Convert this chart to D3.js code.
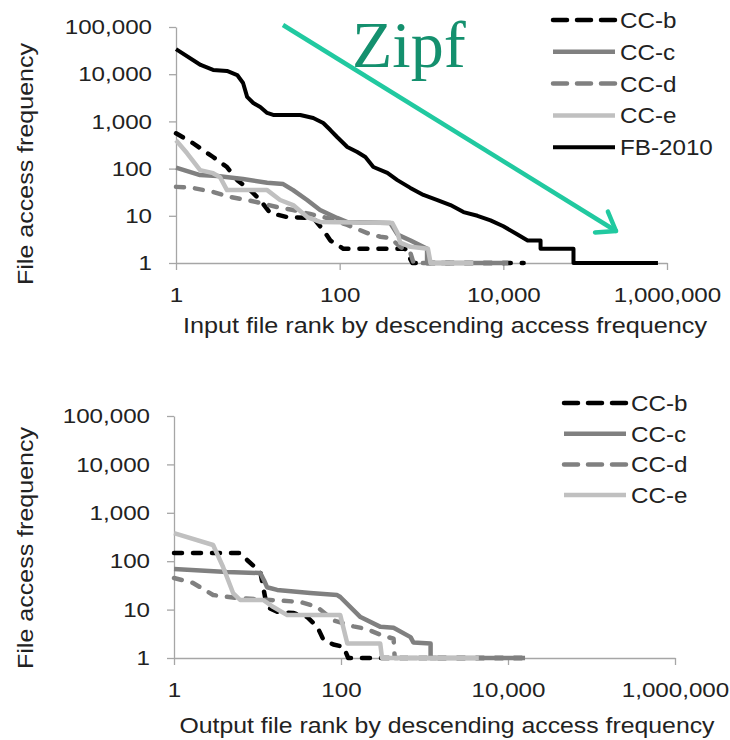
<!DOCTYPE html>
<html><head><meta charset="utf-8">
<script src="https://cdn.jsdelivr.net/npm/d3@7"></script>
<style>
body{margin:0;background:#fff}
svg{display:block}
text{font-family:"Liberation Sans",Arial,sans-serif;}
</style>
</head><body>
<svg id="c" width="730" height="740"></svg>
<script>
// ---------------- data ----------------
const xTicks = [1, 100, 10000, 1000000];
const yTicks = [1, 10, 100, 1000, 10000, 100000];
const seriesNames = ["CC-b", "CC-c", "CC-d", "CC-e", "FB-2010"];

// Input files: [rank, access frequency]
const inCCb = [[1,560],[1.6,349],[2.84,176],[4.2,108],[5.6,57],[8.05,35],[10.7,21.6],[14.1,11.5],[22.8,9.4],[47.5,9],[63,5],[77,3],[111,2],[630,2],[774,1],[17700,1]];
const inCCc = [[1,105],[1.97,73],[3.2,70],[6.6,60],[13,50],[20.4,47],[27,35],[40,21.6],[57.6,13.3],[93,9],[124,7.4],[415,7],[510,4],[735,3],[1170,2],[1170,1],[11500,1]];
const inCCd = [[1,41],[1.6,39],[2.84,32],[4.6,25],[7.4,21.6],[10.7,18.7],[17.2,15.3],[27,13.3],[43.6,10.9],[70,9],[124,6.4],[218,4.3],[314,3.6],[415,3.4],[550,2.2],[735,1.6],[800,1],[3000,1]];
const inCCe = [[1,400],[1.36,214],[1.97,93],[2.84,80],[3.45,66],[4.2,35],[13,35],[18.7,21.6],[27,16.9],[40,9.4],[57.6,7.4],[440,7],[510,4.3],[550,2.7],[735,2.2],[1200,2],[1290,1],[4300,1]];
const inFB = [[1,34000],[2,15700],[2.84,12300],[4.2,11700],[5.6,9600],[6.6,6500],[7.4,3300],[8.8,2450],[10.7,2020],[13,1510],[15.4,1370],[33,1370],[47.5,1180],[63,925],[77,657],[93,467],[124,287],[164,225],[206,176],[258,108],[383,81],[507,57],[731,39],[1055,27.6],[1565,21.6],[2260,16.9],[3260,12],[4830,10],[6970,8],[10000,6],[14900,4],[19800,3],[28500,3],[28500,2],[72000,2],[72000,1],[775000,1]];

// Output files: [rank, access frequency]
const outCCb = [[1,148],[6.2,148],[7.5,106],[10.8,60],[11.7,29],[13,11.3],[17.2,9],[26.8,8.5],[39.5,7],[52,4.4],[61.5,2.4],[81,1.9],[107,1.7],[122,1],[17300,1]];
const outCCc = [[1,69],[4.3,60],[10.8,57],[12,40],[13,29],[17.2,25.5],[42.8,22],[90,20],[98,18.2],[171,7],[297,4.4],[426,4.2],[681,2.7],[735,2.1],[1183,2],[1183,1],[16000,1]];
const outCCd = [[1,45],[1.69,35.5],[2.94,20],[5.7,17.4],[14.2,15.8],[32.6,14.4],[52,11.3],[81,6],[141,4.5],[200,4],[300,3],[426,2.5],[440,1],[1500,1]];
const outCCe = [[1,382],[2.94,216],[3.87,76],[5.1,22],[6.2,15.8],[11.7,15.8],[15.5,11.3],[22.7,7.7],[98,7.7],[119,2],[295,2],[310,1],[4470,1]];

const inTitle = "Input file rank by descending  access frequency";
const outTitle = "Output file rank by descending access frequency";
const yTitle = "File access frequency";

// ---------------- styles ----------------
const styles = {
  "CC-b":   {color:"#000000", dash:"8,11", legendDash:"14,10"},
  "CC-c":   {color:"#808080", dash:null,   legendDash:null},
  "CC-d":   {color:"#808080", dash:"8,11", legendDash:"14,10"},
  "CC-e":   {color:"#c0c0c0", dash:null,   legendDash:null},
  "FB-2010":{color:"#000000", dash:null,   legendDash:null, width:4}
};

const svg = d3.select("#c");

function stretch(sel, factor){
  sel.each(function(){
    const l = this.getComputedTextLength();
    d3.select(this).attr("textLength", l*factor).attr("lengthAdjust","spacingAndGlyphs");
  });
}

function panel(cfg){
  const x = d3.scaleLog().domain([1,1e6]).range([cfg.left, cfg.right]);
  const y = d3.scaleLog().domain([1,1e5]).range([cfg.bottom, cfg.top]);
  const g = svg.append("g");

  const yAx = g.append("g").attr("transform",`translate(${cfg.left},0)`)
    .call(d3.axisLeft(y).tickValues(yTicks).tickFormat(d3.format(",")).tickSize(7).tickPadding(17).tickSizeOuter(0));
  const xAx = g.append("g").attr("transform",`translate(0,${cfg.bottom})`)
    .call(d3.axisBottom(x).tickValues(xTicks).tickFormat(d3.format(",")).tickSize(7).tickPadding(17).tickSizeOuter(0));
  [yAx,xAx].forEach(a=>{
    a.attr("font-size",null).attr("font-family",null);
    a.selectAll("path,line").attr("stroke","#a6a6a6").attr("stroke-width",1.3);
    a.selectAll("text").attr("fill","#222").style("font-size","21px");
    stretch(a.selectAll("text"), 1.15);
  });

  const line = d3.line().x(d=>x(d[0])).y(d=>y(d[1]));
  cfg.series.forEach(s=>{
    const st = styles[s.name];
    g.append("path").datum(s.data)
      .attr("d", line)
      .attr("fill","none")
      .attr("stroke", st.color)
      .attr("stroke-width", st.width || 4.5)
      .attr("stroke-linejoin","round")
      .attr("stroke-linecap", st.dash ? "round" : "butt")
      .attr("stroke-dasharray", st.dash);
  });

  // axis titles
  const xt = g.append("text").attr("x", cfg.xTitleX).attr("y", cfg.xTitleY)
    .attr("text-anchor","middle").attr("fill","#222").style("font-size","22px")
    .text(cfg.xTitle);
  xt.attr("textLength", cfg.xTitleLen).attr("lengthAdjust","spacingAndGlyphs");
  const yt = g.append("text")
    .attr("transform",`translate(33,${cfg.yTitleY}) rotate(-90)`)
    .attr("text-anchor","middle").attr("fill","#222").style("font-size","22px")
    .text(yTitle);
  yt.attr("textLength", 242).attr("lengthAdjust","spacingAndGlyphs");

  // legend
  const lg = g.append("g");
  cfg.series.forEach((s,i)=>{
    const st = styles[s.name];
    const ly = cfg.legY + i*cfg.legStep;
    lg.append("line").attr("x1",cfg.legX).attr("x2",cfg.legX+62).attr("y1",ly).attr("y2",ly)
      .attr("stroke",st.color).attr("stroke-width",st.width||4.5)
      .attr("stroke-linecap", st.legendDash ? "round":"butt")
      .attr("stroke-dasharray", st.legendDash);
    const t = lg.append("text").attr("x",cfg.legX+67).attr("y",ly+8)
      .attr("fill","#222").style("font-size","22px").text(s.name);
    stretch(t, 1.1);
  });
}

panel({
  left:176, right:667, top:27, bottom:263,
  xTitle:inTitle, xTitleX:445, xTitleY:333, xTitleLen:524, yTitleY:164,
  legX:553, legY:20, legStep:31.8,
  series:[
    {name:"CC-b", data:inCCb},
    {name:"CC-c", data:inCCc},
    {name:"CC-d", data:inCCd},
    {name:"CC-e", data:inCCe},
    {name:"FB-2010", data:inFB}
  ]
});

panel({
  left:174, right:675, top:416, bottom:658,
  xTitle:outTitle, xTitleX:447, xTitleY:733, xTitleLen:535, yTitleY:548,
  legX:564, legY:403, legStep:30.7,
  series:[
    {name:"CC-b", data:outCCb},
    {name:"CC-c", data:outCCc},
    {name:"CC-d", data:outCCd},
    {name:"CC-e", data:outCCe}
  ]
});

// Zipf annotation
const ann = svg.append("g");
const x1=283,y1=25,x2=616,y2=231;
ann.append("line").attr("x1",x1).attr("y1",y1).attr("x2",x2).attr("y2",y2)
  .attr("stroke","#21c9a0").attr("stroke-width",4.5);
const ang = Math.atan2(y2-y1,x2-x1)+Math.PI;
[-0.62,0.62].forEach(da=>{
  const a = ang+da;
  ann.append("line").attr("x1",x2).attr("y1",y2)
    .attr("x2",x2+21*Math.cos(a)).attr("y2",y2+21*Math.sin(a))
    .attr("stroke","#21c9a0").attr("stroke-width",4.5).attr("stroke-linecap","round");
});
ann.append("text").attr("x",352).attr("y",67)
  .style("font-family",'"Liberation Serif","Times New Roman",serif').style("font-size","66px")
  .attr("fill","#14906e").text("Zipf");
</script>
</body></html>
